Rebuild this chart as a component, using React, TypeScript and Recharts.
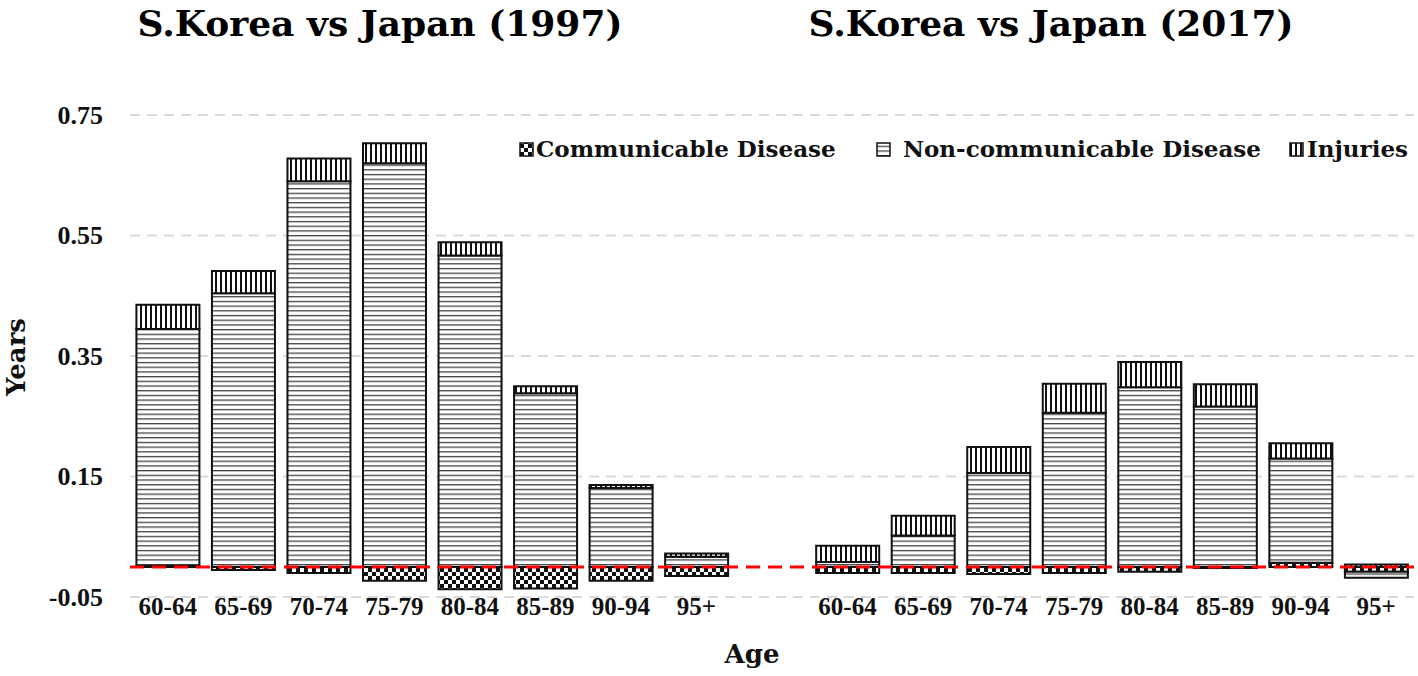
import React from "react";
import { Bar, BarChart, CartesianGrid, ReferenceLine, XAxis, YAxis } from "recharts";

const AGES = ["60-64", "65-69", "70-74", "75-79", "80-84", "85-89", "90-94", "95+"];

// 1997
const COMM_1997 = [0.002, -0.005, -0.01, -0.023, -0.037, -0.036, -0.023, -0.015];
const NCD_1997 = [0.393, 0.454, 0.64, 0.67, 0.517, 0.288, 0.131, 0.017];
const INJ_1997 = [0.04, 0.037, 0.038, 0.033, 0.022, 0.012, 0.005, 0.005];

// 2017
const COMM_2017 = [-0.01, -0.01, -0.012, -0.01, -0.008, -0.002, 0.007, -0.008];
const NCD_2017 = [0.008, 0.052, 0.156, 0.256, 0.298, 0.266, 0.173, -0.01];
const INJ_2017 = [0.027, 0.033, 0.043, 0.048, 0.042, 0.037, 0.025, 0.004];

const Y_TICKS = [-0.05, 0.15, 0.35, 0.55, 0.75];

type Row = { key: string; age: string; comm: number | null; ncd: number | null; inj: number | null };

const rows: Row[] = [
  ...AGES.map((age, i) => ({ key: `a${i}`, age, comm: COMM_1997[i], ncd: NCD_1997[i], inj: INJ_1997[i] })),
  { key: "gap", age: "", comm: null, ncd: null, inj: null },
  ...AGES.map((age, i) => ({ key: `b${i}`, age, comm: COMM_2017[i], ncd: NCD_2017[i], inj: INJ_2017[i] }))
];

const ageOf = (key: string) => rows.find((r) => r.key === key)?.age ?? "";

const SERIF = "'DejaVu Serif', serif";
const TICK_FONT = "'Liberation Serif', serif";

function XTick({ x, payload }: any) {
  return (
    <text x={x} y={615} textAnchor="middle" fontFamily={TICK_FONT} fontWeight="bold" fontSize={25} fill="#111">
      {ageOf(payload.value)}
    </text>
  );
}

function YTick({ y, payload }: any) {
  return (
    <text x={103} y={y + 8.5} textAnchor="end" fontFamily={TICK_FONT} fontWeight="bold" fontSize={26} fill="#111">
      {payload.value.toFixed(2)}
    </text>
  );
}

function Patterns() {
  return (
    <svg width={0} height={0} style={{ position: "absolute" }}>
      <defs>
        <pattern id="pComm" width="8" height="8" patternUnits="userSpaceOnUse">
          <rect width="8" height="8" fill="#fff" />
          <rect width="4" height="4" fill="#111" />
          <rect x="4" y="4" width="4" height="4" fill="#111" />
        </pattern>
        <pattern id="pNcd" width="6" height="4.7" patternUnits="userSpaceOnUse">
          <rect width="6" height="4.7" fill="#fff" />
          <rect width="6" height="1.3" fill="#444" />
        </pattern>
        <pattern id="pInj" width="5" height="6" patternUnits="userSpaceOnUse">
          <rect width="5" height="6" fill="#fff" />
          <rect width="2" height="6" fill="#111" />
        </pattern>
      </defs>
    </svg>
  );
}

const LEGEND = [
  { label: "Communicable Disease", fill: "url(#pComm)", icon: 520, text: 536 },
  { label: "Non-communicable Disease", fill: "url(#pNcd)", icon: 877, text: 903 },
  { label: "Injuries", fill: "url(#pInj)", icon: 1290, text: 1307 }
];

export default function App() {
  return (
    <div style={{ position: "absolute", left: 0, top: 0, width: 1418, height: 676, background: "#fff" }}>
      <Patterns />
      <BarChart
        width={1418}
        height={676}
        data={rows}
        stackOffset="sign"
        barCategoryGap="8.5%"
        margin={{ top: 115, right: 4, bottom: 39, left: 30 }}
      >
        <CartesianGrid vertical={false} stroke="#d9d9d9" strokeWidth={2} strokeDasharray="10 7" />
        <XAxis dataKey="key" interval={0} axisLine={false} tickLine={false} height={40} tick={<XTick />} />
        <YAxis
          domain={[-0.05, 0.75]}
          ticks={Y_TICKS}
          width={100}
          axisLine={false}
          tickLine={false}
          tick={<YTick />}
        />
        <Bar dataKey="comm" stackId="s" fill="url(#pComm)" stroke="#111" strokeWidth={2} isAnimationActive={false} />
        <Bar dataKey="ncd" stackId="s" fill="url(#pNcd)" stroke="#111" strokeWidth={2} isAnimationActive={false} />
        <Bar dataKey="inj" stackId="s" fill="url(#pInj)" stroke="#111" strokeWidth={2} isAnimationActive={false} />
        <ReferenceLine y={0} stroke="#ff0000" strokeWidth={3} strokeDasharray="14 8" />
      </BarChart>

      <svg width={1418} height={676} style={{ position: "absolute", left: 0, top: 0, pointerEvents: "none" }}>
        <text x={380} y={36} textAnchor="middle" fontFamily={SERIF} fontWeight="bold" fontSize={36} fill="#000">
          S.Korea vs Japan (1997)
        </text>
        <text x={1051} y={36} textAnchor="middle" fontFamily={SERIF} fontWeight="bold" fontSize={36} fill="#000">
          S.Korea vs Japan (2017)
        </text>
        <text
          x={0}
          y={0}
          transform="translate(25 357) rotate(-90)"
          textAnchor="middle"
          fontFamily={SERIF}
          fontWeight="bold"
          fontSize={26}
          fill="#111"
        >
          Years
        </text>
        <text x={752} y={663} textAnchor="middle" fontFamily={SERIF} fontWeight="bold" fontSize={26} fill="#111">
          Age
        </text>
        {LEGEND.map((item) => (
          <g key={item.label}>
            <rect x={item.icon} y={143} width={13} height={13} fill={item.fill} stroke="#111" strokeWidth={1.5} />
            <text x={item.text} y={157} fontFamily={SERIF} fontWeight="bold" fontSize={23} fill="#111">
              {item.label}
            </text>
          </g>
        ))}
      </svg>
    </div>
  );
}
